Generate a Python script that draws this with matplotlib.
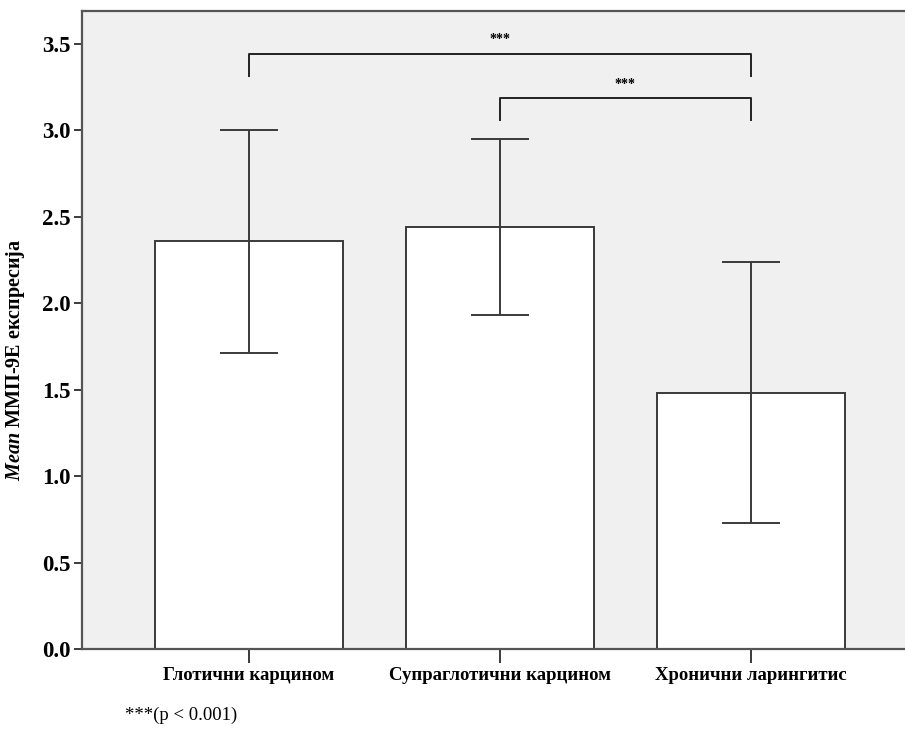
import matplotlib.pyplot as plt
import numpy as np

plt.rcParams['font.family'] = ['Liberation Serif', 'DejaVu Serif']
plt.rcParams['mathtext.fontset'] = 'custom'
plt.rcParams['mathtext.it'] = 'Liberation Serif:italic:bold'
plt.rcParams['mathtext.rm'] = 'Liberation Serif:bold'

# data
groups = ['Глотични карцином', 'Супраглотични карцином', 'Хронични ларингитис']
means = [2.36, 2.44, 1.48]
err_low = [1.71, 1.93, 0.73]
err_high = [3.00, 2.95, 2.24]
# significance brackets: (left group, right group, stars)
pairs = [(0, 2, '***'), (1, 2, '***')]
bracket_y = [3.44, 3.185]
yticks = [0.0, 0.5, 1.0, 1.5, 2.0, 2.5, 3.0, 3.5]

edge = '#3a3a3a'
x = np.arange(len(groups))
means_arr = np.array(means)
yerr = np.vstack([means_arr - np.array(err_low), np.array(err_high) - means_arr])

fig = plt.figure(figsize=(9.05, 7.48), dpi=100)
ax = fig.add_axes([82 / 905, 1 - 649 / 748, 1 - 82 / 905, (649 - 11) / 748])
ax.set_facecolor('#f0f0f0')

ax.bar(x, means, width=0.75, color='white', edgecolor=edge, linewidth=1.4, zorder=2)
ax.errorbar(x, means, yerr=yerr, fmt='none', ecolor=edge, elinewidth=1.4,
            capsize=21, capthick=1.4, zorder=3)

# brackets
for (a, b, stars), yb in zip(pairs, bracket_y):
    drop = 0.125
    ax.plot([x[a], x[a], x[b], x[b]], [yb - drop, yb, yb, yb - drop],
            color='#222222', lw=1.4, zorder=3)
    ax.text((x[a] + x[b]) / 2, yb + 0.045, stars, ha='center', va='bottom',
            fontsize=10, fontweight='bold')

ax.set_xlim(-0.665, 2.614)
ax.set_ylim(0, 3.69)
ax.set_yticks(yticks)
ax.set_yticklabels([f'{v:.1f}' for v in yticks], fontsize=16.5, fontweight='bold')
ax.set_xticks(x)
ax.set_xticklabels(groups, fontsize=13.5, fontweight='bold')
ax.tick_params(axis='y', length=6, width=1.4, color=edge, pad=2)
ax.tick_params(axis='x', length=10, width=1.4, color=edge, pad=3)

for side in ['left', 'bottom', 'top']:
    ax.spines[side].set_color('#555555')
    ax.spines[side].set_linewidth(1.6)
ax.spines['right'].set_visible(False)

ax.set_ylabel(r'$\mathit{Mean}$ ММП-9Е експресија', fontsize=14.5, fontweight='bold')
ax.yaxis.set_label_coords(-0.067, 0.453)

fig.text(125 / 905, 1 - 715 / 748, '***(p < 0.001)', fontsize=13.5, va='center', ha='left')

fig.savefig('out.png', dpi=100)
